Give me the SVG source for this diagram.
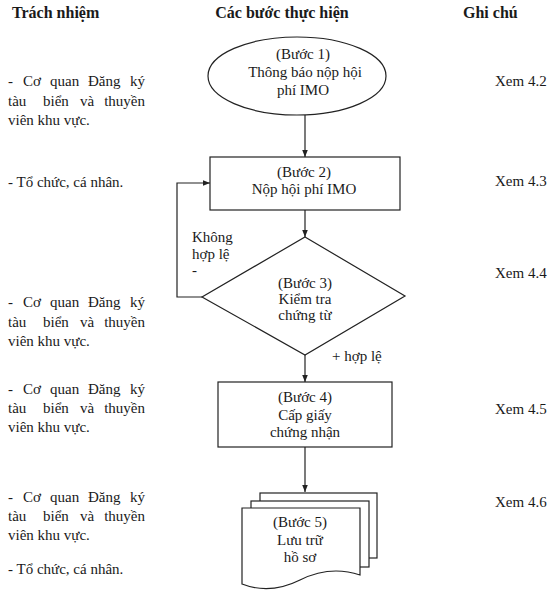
<svg xmlns="http://www.w3.org/2000/svg" width="554" height="600" viewBox="0 0 554 600">
<style>
text{font-family:"Liberation Serif","Times New Roman",serif;font-size:15px;fill:#1a1a1a}
.h{font-weight:bold;font-size:16px}
.c{text-anchor:middle}
.e{text-anchor:end}
.s{fill:#fff;stroke:#222;stroke-width:1.2}
.l{fill:none;stroke:#222;stroke-width:1.2}
</style>
<defs>
<marker id="a" viewBox="0 0 10 10" refX="10" refY="5" markerWidth="7" markerHeight="7" orient="auto" markerUnits="userSpaceOnUse">
<path d="M0,1 L10,5 L0,9 Z" fill="#222"/>
</marker>
<g id="l1">
<text x="8" y="0">-</text><text x="23" y="0">Cơ</text><text x="50" y="0">quan</text><text x="88" y="0">Đăng</text><text class="e" x="145" y="0">ký</text>
</g>
<g id="l2">
<text x="8" y="0">tàu</text><text x="43" y="0">biển</text><text x="80" y="0">và</text><text class="e" x="145" y="0">thuyền</text>
</g>
</defs>
<rect width="554" height="600" fill="#fff"/>
<g id="headers">
<text class="h" x="12" y="18">Trách nhiệm</text>
<text class="h c" x="282" y="18">Các bước thực hiện</text>
<text class="h" x="463" y="18">Ghi chú</text>
</g>
<g id="responsibility">
<use href="#l1" y="86"/>
<use href="#l2" y="106"/>
<text x="8" y="125">viên khu vực.</text>
<text x="8" y="187">- Tổ chức, cá nhân.</text>
<use href="#l1" y="307"/>
<use href="#l2" y="327"/>
<text x="8" y="346">viên khu vực.</text>
<use href="#l1" y="394"/>
<use href="#l2" y="413"/>
<text x="8" y="432">viên khu vực.</text>
<use href="#l1" y="502"/>
<use href="#l2" y="521"/>
<text x="8" y="540">viên khu vực.</text>
<text x="8" y="574">- Tổ chức, cá nhân.</text>
</g>
<g id="notes">
<text x="495" y="86">Xem 4.2</text>
<text x="495" y="186">Xem 4.3</text>
<text x="495" y="278">Xem 4.4</text>
<text x="495" y="414">Xem 4.5</text>
<text x="495" y="507">Xem 4.6</text>
</g>
<g id="connectors">
<line class="l" x1="305" y1="115" x2="305" y2="157" marker-end="url(#a)"/>
<line class="l" x1="305" y1="210" x2="305" y2="237" marker-end="url(#a)"/>
<line class="l" x1="305" y1="355" x2="305" y2="382" marker-end="url(#a)"/>
<line class="l" x1="305" y1="447" x2="305" y2="492" marker-end="url(#a)"/>
<path class="l" d="M202,297 H177 V183 H210" marker-end="url(#a)"/>
<text x="192" y="242">Không</text>
<text x="192" y="259">hợp lệ</text>
<text x="192" y="275">-</text>
<text x="332" y="361">+ hợp lệ</text>
</g>
<g id="step1">
<ellipse class="s" cx="297" cy="76" rx="89" ry="39"/>
<text class="c" x="303" y="59">(Bước 1)</text>
<text class="c" x="305" y="77">Thông báo nộp hội</text>
<text class="c" x="303" y="95">phí IMO</text>
</g>
<g id="step2">
<rect class="s" x="210" y="157" width="190" height="53"/>
<text class="c" x="304" y="177">(Bước 2)</text>
<text class="c" x="304" y="194">Nộp hội phí IMO</text>
</g>
<g id="step3">
<polygon class="s" points="305,237 405,296 305,355 202,297"/>
<text class="c" x="305" y="288">(Bước 3)</text>
<text class="c" x="305" y="304">Kiểm tra</text>
<text class="c" x="305" y="320">chứng từ</text>
</g>
<g id="step4">
<rect class="s" x="218" y="382" width="174" height="65"/>
<text class="c" x="305" y="402">(Bước 4)</text>
<text class="c" x="305" y="420">Cấp giấy</text>
<text class="c" x="305" y="437">chứng nhận</text>
</g>
<g id="step5">
<rect class="s" x="260" y="493" width="117" height="65"/>
<rect class="s" x="251" y="501" width="118" height="66"/>
<path class="s" d="M242,508 H360 V575 Q330,565 300,580 T242,584 Z"/>
<text class="c" x="300" y="527">(Bước 5)</text>
<text class="c" x="300" y="545">Lưu trữ</text>
<text class="c" x="300" y="562">hồ sơ</text>
</g>
</svg>
